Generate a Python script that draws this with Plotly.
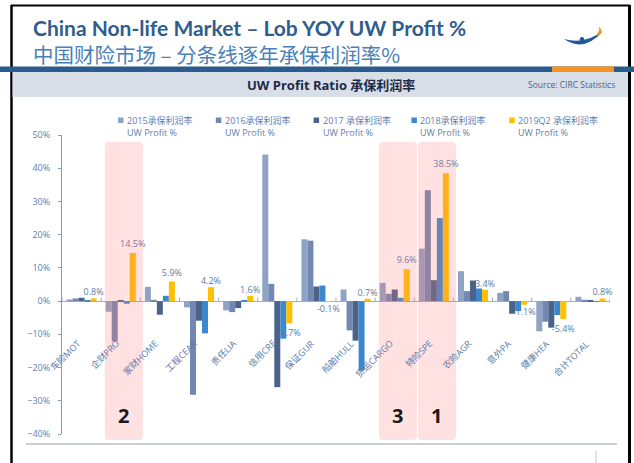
import plotly.graph_objects as go

categories = ["车险MOT", "企财PRO", "家财HOME", "工程CEAR", "责任LIA", "信用CRE", "保证GUR",
              "船舶HULL", "货运CARGO", "特险SPE", "农险AGR", "意外PA", "健康HEA", "合计TOTAL"]
uw_2015 = [0.5, -3.2, 4.3, -1.9, -2.8, 44.1, 18.6, 3.5, 5.5, 15.8, 9.0, 2.5, -9.1, 1.3]
uw_2016 = [0.8, -12.1, 0.4, -28.2, -3.3, 5.2, 18.2, -8.8, 2.2, 33.4, 3.0, 3.0, -6.2, 0.4]
uw_2017 = [1.0, 0.2, -4.1, -5.9, -2.1, -25.9, 4.4, -11.9, 3.5, 6.3, 6.2, -3.8, -8.0, 0.2]
uw_2018 = [0.1, -0.8, 1.6, -9.7, 0.3, -11.3, 4.7, -20.9, 1.0, 25.0, 3.8, -3.0, -4.2, -0.1]
uw_2019q2 = [0.8, 14.5, 5.9, 4.2, 1.6, -6.7, -0.1, 0.7, 9.6, 38.5, 3.4, -1.1, -5.4, 0.8]

series_names = ["2015承保利润率", "2016承保利润率", "2017 承保利润率", "2018承保利润率", "2019Q2 承保利润率"]
colors = ["#8FA3C5", "#7287B1", "#4B6389", "#3C88CE", "#FFC000"]

# highlighted lines and their rank numbers
highlight_cats = ["企财PRO", "货运CARGO", "特险SPE"]
highlight_nums = ["2", "3", "1"]

W, H = 634, 463
L, R, T, B = 62, 24, 135, 29
pw, ph = W - L - R, H - T - B


def px(x):
    return (x - L) / pw


def py(y):
    return (H - B - y) / ph


def pt(x, y):
    return "%.5f,%.5f" % (px(x), py(y))


label_color = "#5B7BAA"
axis_color = "#A3ADBE"
font_fam = "Open Sans, Noto Sans CJK SC, sans-serif"

fig = go.Figure()
all_values = [uw_2015, uw_2016, uw_2017, uw_2018, uw_2019q2]
for i, vals in enumerate(all_values):
    bar = go.Bar(x=categories, y=vals, name=series_names[i], marker_color=colors[i],
                 marker_line_width=0, showlegend=False)
    if i == 4:
        bar.text = ["%.1f%%" % v for v in vals]
        bar.textposition = "outside"
        bar.textfont = dict(size=9, color=label_color)
        bar.constraintext = "none"
        bar.cliponaxis = False
    fig.add_trace(bar)

shapes = []
# slide frame
shapes.append(dict(type="line", xref="paper", yref="paper", x0=px(11), x1=px(630), y0=py(5.5), y1=py(5.5),
                   line=dict(color="black", width=2)))
shapes.append(dict(type="line", xref="paper", yref="paper", x0=px(11.5), x1=px(11.5), y0=py(5), y1=py(463),
                   line=dict(color="black", width=2.5)))
shapes.append(dict(type="line", xref="paper", yref="paper", x0=px(629.5), x1=px(629.5), y0=py(5), y1=py(463),
                   line=dict(color="black", width=3)))
shapes.append(dict(type="rect", xref="paper", yref="paper", x0=px(0), x1=px(634), y0=py(66.5), y1=py(72),
                   fillcolor="#2B5C8E", line_width=0))
shapes.append(dict(type="rect", xref="paper", yref="paper", x0=px(552), x1=px(614), y0=py(66.5), y1=py(72),
                   fillcolor="#F7941D", line_width=0))
shapes.append(dict(type="rect", xref="paper", yref="paper", x0=px(12.5), x1=px(628), y0=py(72), y1=py(97),
                   fillcolor="#D8DEE8", line_width=0))
shapes.append(dict(type="line", xref="paper", yref="paper", x0=px(26), x1=px(617), y0=py(444), y1=py(444),
                   line=dict(color="#B8C0CC", width=1.5)))
shapes.append(dict(type="line", xref="paper", yref="paper", x0=px(596), x1=px(596), y0=py(451), y1=py(463),
                   line=dict(color="#C8C8C8", width=1)))

# logo
shapes.append(dict(type="path", xref="paper", yref="paper",
                   path="M" + pt(564, 39) + " Q" + pt(584, 53) + " " + pt(603, 31) + " Q" + pt(584, 45) + " " + pt(564, 39) + " Z",
                   fillcolor="#1F5A96", line_width=0))
shapes.append(dict(type="circle", xref="paper", yref="paper", x0=px(579.8), x1=px(584.2), y0=py(37), y1=py(41.4),
                   fillcolor="#1F5A96", line_width=0))
shapes.append(dict(type="path", xref="paper", yref="paper",
                   path="M" + pt(598, 36) + " Q" + pt(605, 31) + " " + pt(598.5, 26.5) + " Q" + pt(600.5, 31) + " " + pt(596.5, 34) + " Z",
                   fillcolor="#F7941D", line_width=0))

n = len(categories)
# little tick marks on the zero line between categories
for k in range(n + 1):
    shapes.append(dict(type="line", xref="x", yref="y", x0=k - 0.5, x1=k - 0.5, y0=0, y1=1.1,
                       line=dict(color=axis_color, width=1)))

# pink highlight boxes (rounded)
for cat in highlight_cats:
    i = categories.index(cat)
    cx = L + pw * (i + 0.58) / n
    x0, x1 = cx - 19, cx + 19
    y0, y1 = 142, 440
    r = 4
    path = ("M" + pt(x0 + r, y0) + " L" + pt(x1 - r, y0) + " Q" + pt(x1, y0) + " " + pt(x1, y0 + r) +
            " L" + pt(x1, y1 - r) + " Q" + pt(x1, y1) + " " + pt(x1 - r, y1) +
            " L" + pt(x0 + r, y1) + " Q" + pt(x0, y1) + " " + pt(x0, y1 - r) +
            " L" + pt(x0, y0 + r) + " Q" + pt(x0, y0) + " " + pt(x0 + r, y0) + " Z")
    shapes.append(dict(type="path", xref="paper", yref="paper", path=path, layer="above",
                       fillcolor="rgba(255,120,120,0.22)", line_width=0))

annotations = []
title_txt = ("<span style='font-family:Lato, sans-serif;font-size:21px;color:#2E5E8E'><b>"
             "China Non-life Market – Lob YOY UW Profit %</b></span><br>"
             "中国财险市场 – 分条线逐年承保利润率%")
annotations.append(dict(text=title_txt, x=px(31), y=py(41.5),
                        xref="paper", yref="paper", xanchor="left", yanchor="middle", align="left",
                        showarrow=False,
                        font=dict(family="Noto Sans CJK SC", size=20.5, color="#4A80B8")))
annotations.append(dict(text="<b>UW Profit Ratio 承保利润率</b>", x=px(331), y=py(84.5),
                        xref="paper", yref="paper", xanchor="center", yanchor="middle", showarrow=False,
                        font=dict(size=13, color="#1B2A47")))
annotations.append(dict(text="Source: CIRC Statistics", x=px(617), y=py(85),
                        xref="paper", yref="paper", xanchor="right", yanchor="middle", showarrow=False,
                        font=dict(size=8.5, color="#4B6286")))

# legend built by hand: small square + two line label
for i, name in enumerate(series_names):
    lx = 118 + 97.8 * i
    shapes.append(dict(type="rect", xref="paper", yref="paper", x0=px(lx), x1=px(lx + 5.5),
                       y0=py(117.5), y1=py(123), fillcolor=colors[i], line_width=0))
    annotations.append(dict(text=name + "<br>UW Profit %", x=px(lx + 7), y=py(126.5),
                            xref="paper", yref="paper", xanchor="left", yanchor="middle", align="left",
                            showarrow=False, font=dict(size=9, color="#5F7EAD")))

# category labels sitting under the zero line
for cat in categories:
    annotations.append(dict(text=cat, x=cat, y=-10, xref="x", yref="y", textangle=-45,
                            xanchor="right", yanchor="top", xshift=4, showarrow=False,
                            font=dict(size=9, color=label_color)))

for cat, num in zip(highlight_cats, highlight_nums):
    i = categories.index(cat)
    annotations.append(dict(text="<b>" + num + "</b>", x=(i + 0.58) / n, y=py(415),
                            xref="paper", yref="paper", xanchor="center", yanchor="middle",
                            showarrow=False, font=dict(size=20, color="#1A1A1A")))

fig.update_layout(
    width=W, height=H,
    margin=dict(l=L, r=R, t=T, b=B, autoexpand=False),
    paper_bgcolor="white", plot_bgcolor="white",
    font=dict(family=font_fam, color=label_color),
    barmode="group", bargap=0.233, bargroupgap=0,
    showlegend=False,
    shapes=shapes, annotations=annotations,
)
fig.update_xaxes(type="category", range=[-0.5, n - 0.5], showticklabels=False, showline=False,
                 ticks="", showgrid=False, zeroline=False)
fig.update_yaxes(range=[-40, 50], dtick=10, ticksuffix="%", showgrid=False,
                 showline=True, linecolor="#8C9BB5", linewidth=1,
                 ticks="outside", ticklen=3, tickcolor="#8C9BB5", ticklabelstandoff=6,
                 tickfont=dict(size=9, color="#5F7EAD"),
                 zeroline=True, zerolinecolor=axis_color, zerolinewidth=1.3)

fig.write_html("out.html", config={"displayModeBar": False},
               post_script="document.body.style.margin='0';")
